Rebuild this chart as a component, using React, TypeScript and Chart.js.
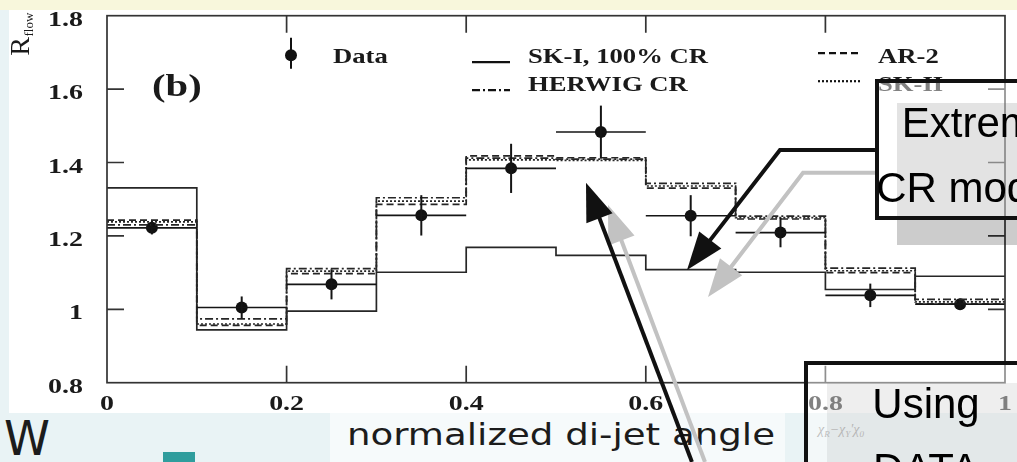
import React, { useEffect, useRef } from "react";
import { Chart, registerables } from "chart.js";

Chart.register(...registerables);

// ---- data ----
const binCenters = [0.05, 0.15, 0.25, 0.35, 0.45, 0.55, 0.65, 0.75, 0.85, 0.95];
const binHalfWidth = 0.05;
const dataValues = [1.222, 1.005, 1.068, 1.256, 1.384, 1.483, 1.255, 1.209, 1.038, 1.014];
const dataErrors = [0.018, 0.03, 0.041, 0.055, 0.067, 0.072, 0.056, 0.04, 0.032, 0.012];
const sk1Values = [1.331, 0.944, 0.995, 1.101, 1.169, 1.147, 1.108, 1.101, 1.054, 1.09];
const ar2Values = [1.243, 0.956, 1.097, 1.286, 1.418, 1.413, 1.33, 1.246, 1.1, 1.014];
const herwigValues = [1.23, 0.974, 1.111, 1.304, 1.412, 1.409, 1.343, 1.254, 1.112, 1.027];
const sk2Values = [1.238, 0.96, 1.104, 1.295, 1.407, 1.406, 1.336, 1.25, 1.105, 1.02];

const xTickValues = [0, 0.2, 0.4, 0.6, 0.8, 1];
const xTickLabels = ["0", "0.2", "0.4", "0.6", "0.8", "1"];
const yTickValues = [0.8, 1, 1.2, 1.4, 1.6, 1.8];
const yTickLabels = ["0.8", "1", "1.2", "1.4", "1.6", "1.8"];
const legendLabels = ["Data", "SK-I, 100% CR", "HERWIG CR", "AR-2", "SK-II"];
const panelLabel = "(b)";

// annotation arrows, anchored in data coordinates
const annotationArrows = [
  { color: "#c2c2c2", points: [[0.8552, 1.3722], [0.7751, 1.3722], [0.6693, 1.0335]] },
  { color: "#c2c2c2", points: [[0.6659, 0.5839], [0.5579, 1.2842]] },
  { color: "#111111", points: [[0.8552, 1.4341], [0.7494, 1.4341], [0.6459, 1.1071]] },
  { color: "#111111", points: [[0.6514, 0.5839], [0.5334, 1.345]] },
];

const LINE = "#262626";
const SERIF = "'Liberation Serif', 'Times New Roman', serif";
const SX = 1.27;

const dashAR2 = [7, 4];
const dashHerwig = [8, 3, 2, 3];
const dashSK2 = [2, 2];

function stepEdges(vals: number[]) {
  const pts = vals.map((v, i) => ({ x: binCenters[i] - binHalfWidth, y: v }));
  const last = vals.length - 1;
  pts.push({ x: binCenters[last] + binHalfWidth, y: vals[last] });
  return pts;
}

function sText(ctx: CanvasRenderingContext2D, text: string, x: number, y: number, font: string, align: string, color = "#1a1a1a", sx = SX) {
  ctx.save();
  ctx.font = font;
  ctx.fillStyle = color;
  ctx.textBaseline = "alphabetic";
  ctx.textAlign = "left";
  const w = ctx.measureText(text).width * sx;
  let left = x;
  if (align === "center") left = x - w / 2;
  else if (align === "right") left = x - w;
  ctx.translate(left, y);
  ctx.scale(sx, 1);
  ctx.fillText(text, 0, 0);
  ctx.restore();
}

const decorPlugin = {
  id: "decor",
  afterDatasetsDraw(chart: any) {
    const ctx: CanvasRenderingContext2D = chart.ctx;
    const xs = chart.scales.x;
    const ys = chart.scales.y;
    const a = chart.chartArea;

    // error bars
    ctx.save();
    ctx.strokeStyle = "#151515";
    binCenters.forEach((c, i) => {
      const px = xs.getPixelForValue(c);
      const py = ys.getPixelForValue(dataValues[i]);
      ctx.lineWidth = 1.6;
      ctx.beginPath();
      ctx.moveTo(xs.getPixelForValue(c - binHalfWidth), py);
      ctx.lineTo(xs.getPixelForValue(c + binHalfWidth), py);
      ctx.stroke();
      ctx.lineWidth = 2;
      ctx.beginPath();
      ctx.moveTo(px, ys.getPixelForValue(dataValues[i] - dataErrors[i]));
      ctx.lineTo(px, ys.getPixelForValue(dataValues[i] + dataErrors[i]));
      ctx.stroke();
    });
    ctx.restore();

    // frame
    ctx.save();
    ctx.strokeStyle = "#333333";
    ctx.lineWidth = 1.7;
    ctx.strokeRect(a.left, a.top, a.right - a.left, a.bottom - a.top);
    const tl = 17;
    ctx.beginPath();
    xTickValues.forEach((v) => {
      if (v <= 0 || v >= 1) return;
      const px = xs.getPixelForValue(v);
      ctx.moveTo(px, a.bottom);
      ctx.lineTo(px, a.bottom - tl);
      ctx.moveTo(px, a.top);
      ctx.lineTo(px, a.top + tl);
    });
    yTickValues.forEach((v) => {
      if (v <= 0.8 || v >= 1.8) return;
      const py = ys.getPixelForValue(v);
      ctx.moveTo(a.left, py);
      ctx.lineTo(a.left + tl, py);
      ctx.moveTo(a.right, py);
      ctx.lineTo(a.right - tl, py);
    });
    ctx.stroke();
    ctx.restore();

    // tick labels
    const tickFont = `bold 22px ${SERIF}`;
    xTickValues.forEach((v, i) => {
      sText(ctx, xTickLabels[i], xs.getPixelForValue(v), a.bottom + 27.5, tickFont, "center");
    });
    yTickValues.forEach((v, i) => {
      sText(ctx, yTickLabels[i], a.left - 24, ys.getPixelForValue(v) + 10, tickFont, "right");
    });

    // y axis title R_flow
    ctx.save();
    ctx.fillStyle = "#1a1a1a";
    ctx.translate(a.left - 78, a.top + 40);
    ctx.rotate(-Math.PI / 2);
    ctx.font = `28px ${SERIF}`;
    ctx.fillText("R", 0, 0);
    const rw = ctx.measureText("R").width;
    ctx.font = `13px ${SERIF}`;
    ctx.fillText("flow", rw + 0.5, 3.5);
    ctx.restore();

    // panel label
    sText(ctx, panelLabel, a.left + 45, a.top + 80, `bold 32px ${SERIF}`, "left");

    // legend
    const lf = `bold 21px ${SERIF}`;
    ctx.save();
    ctx.fillStyle = "#111";
    ctx.strokeStyle = "#111";
    ctx.lineWidth = 2;
    ctx.beginPath();
    ctx.arc(a.left + 184, a.top + 39.5, 6, 0, Math.PI * 2);
    ctx.fill();
    ctx.beginPath();
    ctx.moveTo(a.left + 184, a.top + 22);
    ctx.lineTo(a.left + 184, a.top + 53);
    ctx.stroke();
    const sample = (x0: number, x1: number, y: number, dash: number[]) => {
      ctx.setLineDash(dash);
      ctx.beginPath();
      ctx.moveTo(x0, y);
      ctx.lineTo(x1, y);
      ctx.stroke();
      ctx.setLineDash([]);
    };
    ctx.lineWidth = 2.2;
    sample(a.left + 365, a.left + 403, a.top + 46.5, []);
    sample(a.left + 365, a.left + 403, a.top + 74.5, dashHerwig);
    sample(a.left + 711, a.left + 755, a.top + 37.5, dashAR2);
    sample(a.left + 711, a.left + 755, a.top + 65.5, dashSK2);
    ctx.restore();
    sText(ctx, legendLabels[0], a.left + 226, a.top + 47, lf, "left");
    sText(ctx, legendLabels[1], a.left + 421, a.top + 47, lf, "left");
    sText(ctx, legendLabels[2], a.left + 421, a.top + 75, lf, "left");
    sText(ctx, legendLabels[3], a.left + 771, a.top + 47, lf, "left");
    sText(ctx, legendLabels[4], a.left + 771, a.top + 75, lf, "left");
  },
  afterDraw(chart: any) {
    const ctx: CanvasRenderingContext2D = chart.ctx;
    const xs = chart.scales.x;
    const ys = chart.scales.y;
    annotationArrows.forEach((arr) => {
      const pts = arr.points.map(([vx, vy]) => [xs.getPixelForValue(vx), ys.getPixelForValue(vy)]);
      const n = pts.length;
      const tip = pts[n - 1];
      const prev = pts[n - 2];
      const dx = tip[0] - prev[0];
      const dy = tip[1] - prev[1];
      const len = Math.hypot(dx, dy);
      const ux = dx / len;
      const uy = dy / len;
      const hl = 38;
      const hw = 14;
      const bx = tip[0] - ux * hl;
      const by = tip[1] - uy * hl;
      ctx.save();
      ctx.strokeStyle = arr.color;
      ctx.fillStyle = arr.color;
      ctx.lineWidth = 4;
      ctx.lineJoin = "miter";
      ctx.beginPath();
      ctx.moveTo(pts[0][0], pts[0][1]);
      for (let i = 1; i < n - 1; i++) ctx.lineTo(pts[i][0], pts[i][1]);
      ctx.lineTo(bx + ux * 4, by + uy * 4);
      ctx.stroke();
      ctx.beginPath();
      ctx.moveTo(tip[0], tip[1]);
      ctx.lineTo(bx - uy * hw, by + ux * hw);
      ctx.lineTo(bx + uy * hw, by - ux * hw);
      ctx.closePath();
      ctx.fill();
      ctx.restore();
    });
  },
};

export default function App() {
  const ref = useRef<HTMLCanvasElement | null>(null);

  useEffect(() => {
    if (!ref.current) return;
    const stepDs = (label: string, vals: number[], dash: number[]) => ({
      type: "line" as const,
      label,
      data: stepEdges(vals),
      borderColor: LINE,
      borderWidth: 1.7,
      borderDash: dash,
      pointRadius: 0,
      stepped: true,
      fill: false,
      tension: 0,
    });
    const chart = new Chart(ref.current, {
      type: "line",
      data: {
        datasets: [
          stepDs(legendLabels[3], ar2Values, dashAR2),
          stepDs(legendLabels[2], herwigValues, dashHerwig),
          stepDs(legendLabels[4], sk2Values, dashSK2),
          stepDs(legendLabels[1], sk1Values, []),
          {
            type: "line" as const,
            label: legendLabels[0],
            data: binCenters.map((x, i) => ({ x, y: dataValues[i] })),
            showLine: false,
            pointRadius: 6,
            pointBackgroundColor: "#111",
            pointBorderColor: "#111",
            pointBorderWidth: 0,
          },
        ],
      },
      options: {
        animation: false,
        responsive: false,
        maintainAspectRatio: false,
        devicePixelRatio: 1,
        events: [],
        layout: { padding: { left: 107, top: 15.7, right: 12, bottom: 79.3 } },
        scales: {
          x: { type: "linear", min: 0, max: 1, display: false },
          y: { type: "linear", min: 0.8, max: 1.8, display: false },
        },
        plugins: { legend: { display: false }, tooltip: { enabled: false } },
      },
      plugins: [decorPlugin],
    } as any);
    return () => chart.destroy();
  }, []);

  const abs = (s: React.CSSProperties): React.CSSProperties => ({ position: "absolute", ...s });
  const boxFont = "'Liberation Sans', Arial, sans-serif";

  return (
    <div style={{ position: "relative", width: 1017, height: 462, overflow: "hidden", background: "#e9f3f5" }}>
      <style>{`body{margin:0}`}</style>
      <div style={abs({ left: 0, top: 0, width: 1017, height: 10, background: "#f8f7dc" })} />
      <div style={abs({ left: 9, top: 10, width: 1008, height: 403, background: "#ffffff" })} />
      <div style={abs({ left: 330, top: 413, width: 455, height: 49, background: "#f6fafb" })} />
      <div style={abs({ left: 163, top: 452, width: 32, height: 12, background: "#2f9d9d" })} />
      <svg width={1017} height={462} style={abs({ left: 0, top: 0 })}>
        <text x={4} y={455} fontFamily="'DejaVu Sans', sans-serif" fontSize={48} fill="#1c1c1c" textLength={46} lengthAdjust="spacingAndGlyphs">W</text>
        <text x={347} y={445} fontFamily="'DejaVu Sans', sans-serif" fontSize={30} fill="#1c1c1c" textLength={428} lengthAdjust="spacingAndGlyphs">normalized di-jet angle</text>
        <text x={818} y={434} fontFamily={SERIF} fontStyle="italic" fontSize={14} fill="#8a8a8a">
          χ<tspan fontSize={9} dy={3}>R</tspan><tspan dy={-3}>−χ</tspan><tspan fontSize={9} dy={3}>Y</tspan><tspan dy={-3}>'χ</tspan><tspan fontSize={9} dy={3}>0</tspan>
        </text>
      </svg>
      <canvas ref={ref} width={1017} height={462} style={abs({ left: 0, top: 0, width: 1017, height: 462 })} />

      {/* text box: Extreme CR models */}
      <div style={abs({ left: 897, top: 103, width: 220, height: 142, background: "rgba(0,0,0,0.2)" })} />
      <div style={abs({ left: 875, top: 79, width: 240, height: 141, boxSizing: "border-box", border: "4px solid #111", background: "rgba(255,255,255,0.45)" })} />
      <div style={abs({ left: 980, top: 90, transform: "translateX(-50%)", whiteSpace: "nowrap", fontFamily: boxFont, fontSize: 42, lineHeight: "65px", color: "#000" })}>Extreme</div>
      <div style={abs({ left: 980, top: 155, transform: "translateX(-50%)", whiteSpace: "nowrap", fontFamily: boxFont, fontSize: 42, lineHeight: "65px", color: "#000" })}>CR models</div>

      {/* text box: Using DATA */}
      <div style={abs({ left: 827, top: 383, width: 240, height: 100, background: "rgba(0,0,0,0.12)" })} />
      <div style={abs({ left: 804, top: 361, width: 244, height: 140, boxSizing: "border-box", border: "4px solid #111", background: "rgba(255,255,255,0.45)" })} />
      <div style={abs({ left: 926, top: 371, transform: "translateX(-50%)", whiteSpace: "nowrap", fontFamily: boxFont, fontSize: 42, lineHeight: "65px", color: "#000" })}>Using</div>
      <div style={abs({ left: 926, top: 436, transform: "translateX(-50%)", whiteSpace: "nowrap", fontFamily: boxFont, fontSize: 42, lineHeight: "65px", color: "#000" })}>DATA</div>
    </div>
  );
}
